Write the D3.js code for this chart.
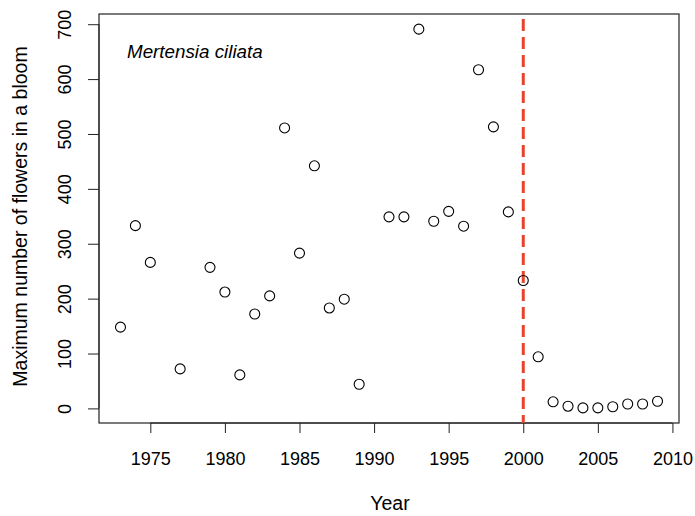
<!DOCTYPE html>
<html>
<head>
<meta charset="utf-8">
<script src="https://cdn.jsdelivr.net/npm/d3@7"></script>
<style>
  body { margin: 0; background: #fff; }
  svg { display: block; font-family: Arial, "Liberation Sans", sans-serif; }
</style>
</head>
<body>
<div id="chart"></div>
<script>
const years = [1973, 1974, 1975, 1977, 1979, 1980, 1981, 1982, 1983, 1984, 1985, 1986, 1987, 1988, 1989,
               1991, 1992, 1993, 1994, 1995, 1996, 1997, 1998, 1999, 2000, 2001, 2002, 2003, 2004, 2005,
               2006, 2007, 2008, 2009];
const flowers = [148, 333, 266, 72, 257, 212, 61, 172, 205, 511, 283, 442, 183, 199, 44,
                 349, 349, 691, 341, 359, 332, 617, 513, 358, 233, 94, 12, 4, 1, 1,
                 3, 8, 8, 13];
const xTicks = [1975, 1980, 1985, 1990, 1995, 2000, 2005, 2010];
const yTicks = [0, 100, 200, 300, 400, 500, 600, 700];
const markYear = 2000;

const width = 695, height = 516;
const margin = { left: 99, right: 16, top: 14, bottom: 93 };

const svg = d3.select("#chart").append("svg")
    .attr("width", width)
    .attr("height", height);

// R-style 4% padding on both axes
const xr = d3.extent(years), yr = d3.extent(flowers);
const xPad = (xr[1] - xr[0]) * 0.04, yPad = (yr[1] - yr[0]) * 0.04;

const x = d3.scaleLinear()
    .domain([xr[0] - xPad, xr[1] + xPad])
    .range([margin.left, width - margin.right]);
const y = d3.scaleLinear()
    .domain([yr[0] - yPad, yr[1] + yPad])
    .range([height - margin.bottom, margin.top]);

// axes
const xAxis = svg.append("g")
    .attr("transform", `translate(0,${height - margin.bottom})`)
    .call(d3.axisBottom(x).tickValues(xTicks).tickFormat(d3.format("d")).tickSize(10).tickPadding(19));
const yAxis = svg.append("g")
    .attr("transform", `translate(${margin.left},0)`)
    .call(d3.axisLeft(y).tickValues(yTicks).tickSize(11).tickPadding(0));

[xAxis, yAxis].forEach(a => {
    a.select(".domain").remove();
    a.selectAll("line").attr("stroke", "#222").attr("stroke-width", 1);
    a.selectAll("text").attr("fill", "#000").style("font-size", "18px").attr("font-family", null);
});

// axis lines span first to last tick, like R
xAxis.append("line")
    .attr("x1", x(xTicks[0])).attr("x2", x(xTicks[xTicks.length - 1]))
    .attr("stroke", "#222");
yAxis.append("line")
    .attr("y1", y(yTicks[0])).attr("y2", y(yTicks[yTicks.length - 1]))
    .attr("stroke", "#222");

// rotated y tick labels
yAxis.selectAll(".tick text")
    .attr("x", null)
    .attr("text-anchor", "middle")
    .attr("transform", "translate(-34,0) rotate(-90)")
    .attr("dy", "0.35em");

// plot box
svg.append("rect")
    .attr("x", margin.left).attr("y", margin.top)
    .attr("width", width - margin.left - margin.right)
    .attr("height", height - margin.top - margin.bottom)
    .attr("fill", "none")
    .attr("stroke", "#222")
    .attr("stroke-width", 1.2);

// dashed reference line
svg.append("line")
    .attr("x1", x(markYear)).attr("x2", x(markYear))
    .attr("y1", margin.top + 5).attr("y2", height - margin.bottom)
    .attr("stroke", "#e8432b")
    .attr("stroke-width", 3)
    .attr("stroke-dasharray", "12,6");

// points
svg.append("g")
    .selectAll("circle")
    .data(years.map((yr, i) => ({ year: yr, value: flowers[i] })))
    .join("circle")
    .attr("cx", d => x(d.year))
    .attr("cy", d => y(d.value))
    .attr("r", 5)
    .attr("fill", "none")
    .attr("stroke", "#000")
    .attr("stroke-width", 1.1);

// labels
svg.append("text")
    .attr("x", 127).attr("y", 58)
    .style("font-size", "18.8px")
    .style("font-style", "italic")
    .text("Mertensia ciliata");

svg.append("text")
    .attr("x", (margin.left + width - margin.right) / 2 + 1)
    .attr("y", 510)
    .attr("text-anchor", "middle")
    .style("font-size", "19.5px")
    .text("Year");

svg.append("text")
    .attr("transform", `translate(27,${(margin.top + height - margin.bottom) / 2 - 2}) rotate(-90)`)
    .attr("text-anchor", "middle")
    .style("font-size", "19.5px")
    .text("Maximum number of flowers in a bloom");
</script>
</body>
</html>
